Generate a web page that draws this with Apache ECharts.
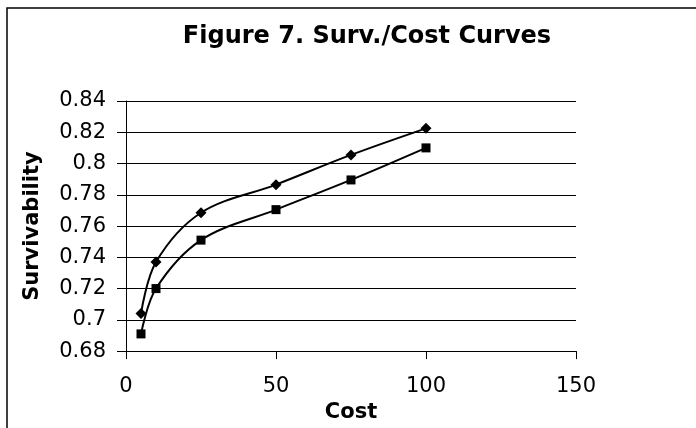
<!DOCTYPE html>
<html><head><meta charset="utf-8">
<script src="https://cdn.jsdelivr.net/npm/echarts@6/dist/echarts.min.js"></script>
<style>html,body{margin:0;padding:0;background:#fff}#c{width:696px;height:428px}</style>
</head><body><div id="c"></div>
<script>
const titleText = 'Figure 7. Surv./Cost Curves';
const xName = 'Cost';
const yName = 'Survivability';
const costs = [5, 10, 25, 50, 75, 100];
const survDiamond = [0.704, 0.737, 0.7685, 0.7865, 0.8055, 0.8225];
const survSquare = [0.691, 0.72, 0.751, 0.7705, 0.7895, 0.81];

const font = '"DejaVu Sans", "Liberation Sans", Arial, sans-serif';
const chart = echarts.init(document.getElementById('c'), null, {renderer: 'canvas'});
chart.setOption({
  animation: false,
  backgroundColor: '#fff',
  title: {
    text: titleText, left: 362, top: 20, textAlign: 'center',
    textStyle: {fontFamily: font, fontWeight: 'bold', fontSize: 24, color: '#000'}
  },
  graphic: [{
    type: 'polyline', shape: {points: [[7, 428], [7, 8], [696, 8]]},
    style: {stroke: '#000', lineWidth: 1.5, fill: null}, silent: true
  }],
  grid: {left: 126, right: 120, top: 101, bottom: 75, containLabel: false},
  xAxis: {
    type: 'value', min: 0, max: 150, interval: 50,
    name: xName, nameLocation: 'middle', nameGap: 38,
    nameTextStyle: {fontFamily: font, fontWeight: 'bold', fontSize: 21, color: '#000'},
    axisLine: {show: true, onZero: false, lineStyle: {color: '#000', width: 1}},
    axisTick: {show: true, length: 8, lineStyle: {color: '#000'}},
    axisLabel: {fontFamily: font, fontSize: 21, color: '#000', margin: 25},
    splitLine: {show: false}
  },
  yAxis: {
    type: 'value', min: 0.68, max: 0.84, interval: 0.02,
    name: yName, nameLocation: 'middle', nameGap: 83, nameRotate: 90,
    nameTextStyle: {fontFamily: font, fontWeight: 'bold', fontSize: 21, color: '#000'},
    axisLine: {show: true, lineStyle: {color: '#000', width: 1}},
    axisTick: {show: true, length: 9, lineStyle: {color: '#000'}},
    axisLabel: {fontFamily: font, fontSize: 21, color: '#000', margin: 20},
    splitLine: {show: true, lineStyle: {color: '#000', width: 1}}
  },
  series: [{
    type: 'line', data: costs.map((c, i) => [c, survDiamond[i]]),
    smooth: 0.35, symbol: 'diamond', symbolSize: 11,
    lineStyle: {color: '#000', width: 2}, itemStyle: {color: '#000'}
  }, {
    type: 'line', data: costs.map((c, i) => [c, survSquare[i]]),
    smooth: 0.35, symbol: 'rect', symbolSize: 9,
    lineStyle: {color: '#000', width: 2}, itemStyle: {color: '#000'}
  }]
});
</script>
</body></html>
